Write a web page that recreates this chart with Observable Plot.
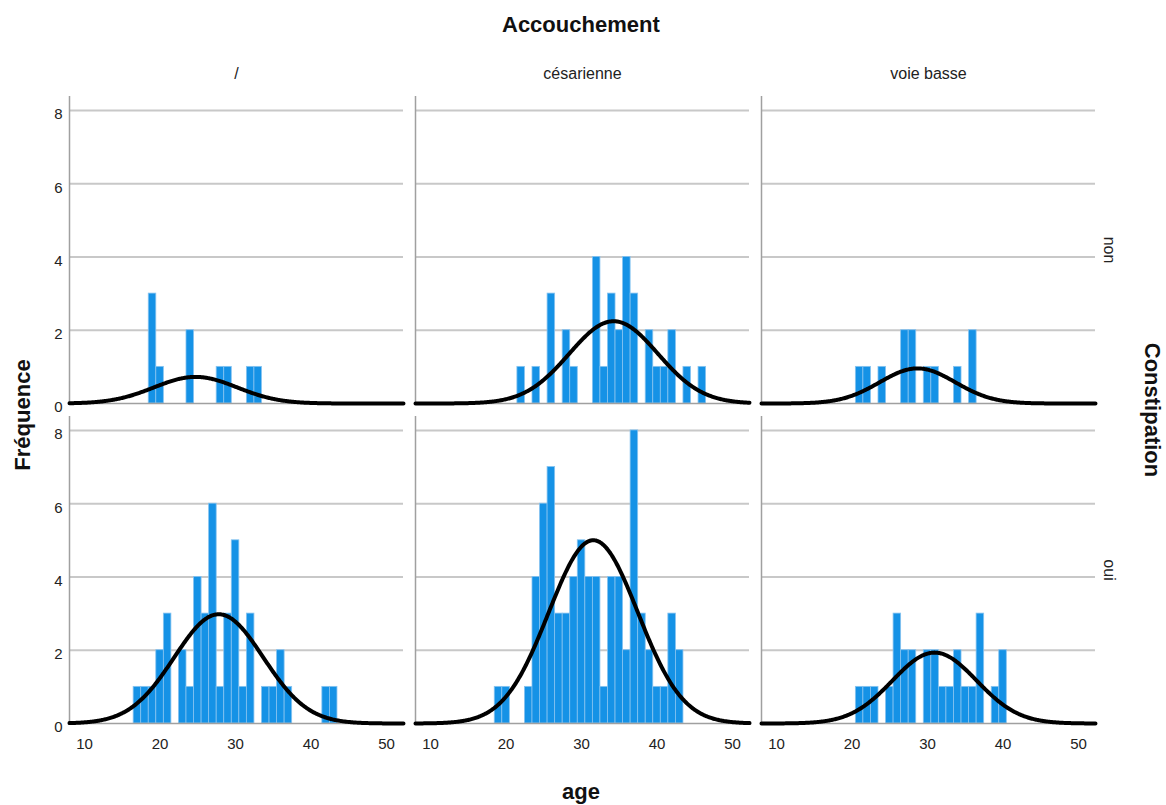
<!DOCTYPE html>
<html>
<head>
<meta charset="utf-8">
<script src="https://cdn.jsdelivr.net/npm/d3@7"></script>
<script src="https://cdn.jsdelivr.net/npm/@observablehq/plot@0.6"></script>
<style>
  body { margin: 0; background: #fff; }
  #wrap { position: relative; width: 1166px; height: 805px; font-family: "Liberation Sans", Arial, sans-serif; }
  .t { position: absolute; font-weight: bold; font-size: 22px; color: #111; white-space: nowrap; transform-origin: center center; }
</style>
</head>
<body>
<div id="wrap"></div>
<script>
// Facet categories
const accouchement = ["/", "césarienne", "voie basse"];
const constipation = ["non", "oui"];
const xTicks = [10, 20, 30, 40, 50];
const yTicks = [0, 2, 4, 6, 8];

// Histogram data (age in years, frequency) per panel
const slashNonAges   = [19, 20, 24, 28, 29, 32, 33];
const slashNonCounts = [3, 1, 2, 1, 1, 1, 1];

const cesNonAges   = [22, 24, 26, 28, 29, 32, 33, 34, 35, 36, 37, 39, 40, 41, 42, 44, 46];
const cesNonCounts = [1, 1, 3, 2, 1, 4, 1, 3, 2, 4, 3, 2, 1, 1, 2, 1, 1];

const vbNonAges   = [21, 22, 24, 27, 28, 30, 31, 34, 36];
const vbNonCounts = [1, 1, 1, 2, 2, 1, 1, 1, 2];

const slashOuiAges   = [17, 18, 19, 20, 21, 23, 24, 25, 26, 27, 28, 29, 30, 31, 32, 34, 35, 36, 37, 42, 43];
const slashOuiCounts = [1, 1, 1, 2, 3, 2, 1, 4, 3, 6, 1, 3, 5, 1, 3, 1, 1, 2, 1, 1, 1];

const cesOuiAges   = [19, 20, 23, 24, 25, 26, 27, 28, 29, 30, 31, 32, 33, 34, 35, 36, 37, 38, 39, 40, 41, 42, 43];
const cesOuiCounts = [1, 1, 1, 4, 6, 7, 3, 3, 4, 5, 4, 4, 1, 4, 4, 2, 8, 3, 2, 1, 1, 3, 2];

const vbOuiAges   = [21, 22, 23, 25, 26, 27, 28, 30, 31, 32, 33, 34, 35, 36, 37, 39, 40];
const vbOuiCounts = [1, 1, 1, 1, 3, 2, 2, 2, 2, 1, 1, 2, 1, 1, 3, 1, 2];

const panels = [
  {acc: "/", cons: "non", ages: slashNonAges, counts: slashNonCounts},
  {acc: "césarienne", cons: "non", ages: cesNonAges, counts: cesNonCounts},
  {acc: "voie basse", cons: "non", ages: vbNonAges, counts: vbNonCounts},
  {acc: "/", cons: "oui", ages: slashOuiAges, counts: slashOuiCounts},
  {acc: "césarienne", cons: "oui", ages: cesOuiAges, counts: cesOuiCounts},
  {acc: "voie basse", cons: "oui", ages: vbOuiAges, counts: vbOuiCounts}
];

const xDomain = [8, 52.25];
const binWidth = 1;

const bars = [];
const curve = [];
for (const p of panels) {
  const key = p.acc + "|" + p.cons;
  let n = 0, s = 0;
  p.ages.forEach((a, i) => { n += p.counts[i]; s += a * p.counts[i]; bars.push({acc: p.acc, cons: p.cons, age: a, count: p.counts[i]}); });
  const mean = s / n;
  let ss = 0;
  p.ages.forEach((a, i) => { ss += p.counts[i] * (a - mean) * (a - mean); });
  const sd = Math.sqrt(ss / (n - 1));
  // Fitted normal curve (SPSS style): N * binWidth * pdf, from the panel's own mean and sd
  const steps = 400;
  for (let k = 0; k <= steps; k++) {
    const x = xDomain[0] + (xDomain[1] - xDomain[0]) * k / steps;
    const z = (x - mean) / sd;
    curve.push({acc: p.acc, cons: p.cons, key, x, y: n * binWidth * Math.exp(-0.5 * z * z) / (sd * Math.sqrt(2 * Math.PI))});
  }
}

const chart = Plot.plot({
  width: 1166,
  height: 805,
  marginLeft: 68,
  marginRight: 71,
  marginTop: 95,
  marginBottom: 82,
  style: {fontFamily: "'Liberation Sans', Arial, sans-serif", fontSize: "15px", color: "#222", background: "white", overflow: "visible"},
  x: {domain: xDomain},
  y: {domain: [0, 8.38]},
  fx: {domain: accouchement, paddingInner: 0.036, paddingOuter: 0},
  fy: {domain: constipation, paddingInner: 0.042, paddingOuter: 0},
  marks: [
    Plot.gridY([2, 4, 6, 8], {stroke: "#c8c8c8", strokeOpacity: 1, strokeWidth: 2}),
    Plot.rect(bars, {
      x1: d => d.age - binWidth / 2,
      x2: d => d.age + binWidth / 2,
      y1: 0,
      y2: "count",
      fx: "acc",
      fy: "cons",
      fill: "#1592e6",
      stroke: "#86c3f0",
      strokeWidth: 0.8
    }),
    Plot.ruleY([0], {stroke: "#a0a0a0", strokeWidth: 1.5}),
    Plot.ruleX([xDomain[0]], {stroke: "#a0a0a0", strokeWidth: 1.5}),
    Plot.line(curve, {x: "x", y: "y", z: "key", fx: "acc", fy: "cons", stroke: "black", strokeWidth: 4}),
    Plot.axisX({ticks: xTicks, tickSize: 0, tickPadding: 15, label: null}),
    Plot.axisY({ticks: yTicks, tickSize: 0, tickPadding: 7, dy: 4, label: null}),
    Plot.axisFx({anchor: "top", tickSize: 0, tickPadding: 18, fontSize: 16, label: null}),
    Plot.axisFy({anchor: "right", tickSize: 0, tickPadding: 20, tickRotate: 90, fontSize: 16, label: null})
  ]
});

const wrap = document.getElementById("wrap");
wrap.appendChild(chart);

function addTitle(text, cx, cy, rot) {
  const d = document.createElement("div");
  d.className = "t";
  d.textContent = text;
  wrap.appendChild(d);
  const w = d.offsetWidth, h = d.offsetHeight;
  d.style.left = (cx - w / 2) + "px";
  d.style.top = (cy - h / 2) + "px";
  if (rot) d.style.transform = "rotate(" + rot + "deg)";
}
addTitle("Accouchement", 581, 25, 0);
addTitle("age", 581, 792, 0);
addTitle("Fréquence", 22, 415, -90);
addTitle("Constipation", 1152, 410, 90);
</script>
</body>
</html>
